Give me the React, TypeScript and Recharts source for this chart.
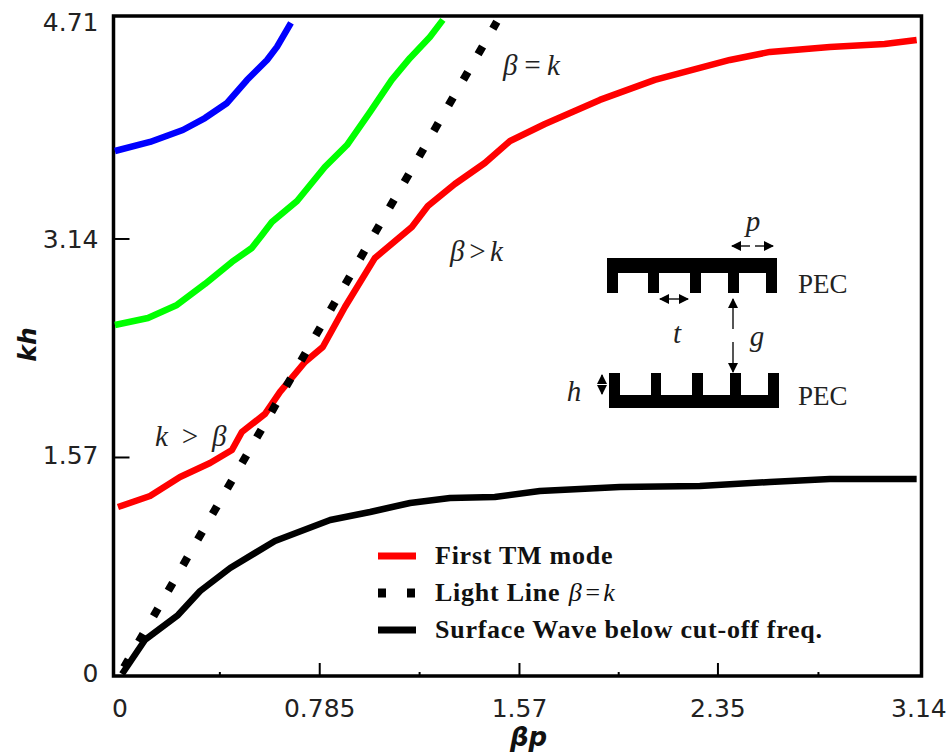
import React from "react";
import { LineChart, Line, XAxis, YAxis, Legend, ReferenceArea } from "recharts";

// values (beta*p, k*h)
const redX = [-0.008, 0.118, 0.236, 0.354, 0.44, 0.479, 0.57, 0.629, 0.727, 0.797, 0.884, 1.002, 1.147, 1.21, 1.316, 1.434, 1.533, 1.67, 1.886, 2.102, 2.397, 2.554, 2.79, 3.005, 3.131];
const redY = [1.214, 1.293, 1.43, 1.53, 1.624, 1.753, 1.883, 2.041, 2.256, 2.364, 2.651, 3.004, 3.226, 3.377, 3.535, 3.686, 3.844, 3.966, 4.139, 4.283, 4.426, 4.484, 4.52, 4.541, 4.57];
const greenX = [-0.02, 0.11, 0.224, 0.334, 0.44, 0.518, 0.558, 0.597, 0.696, 0.805, 0.892, 0.983, 1.068, 1.14, 1.218, 1.269];
const greenY = [2.522, 2.572, 2.666, 2.817, 2.975, 3.075, 3.169, 3.262, 3.413, 3.657, 3.815, 4.053, 4.283, 4.441, 4.591, 4.714];
const blueX = [-0.02, 0.118, 0.247, 0.334, 0.421, 0.499, 0.578, 0.617, 0.672];
const blueY = [3.772, 3.837, 3.923, 4.009, 4.117, 4.282, 4.426, 4.52, 4.692];
const blackX = [0.008, 0.098, 0.228, 0.315, 0.433, 0.609, 0.826, 0.983, 1.14, 1.297, 1.473, 1.65, 1.965, 2.279, 2.554, 2.79, 3.131];
const blackY = [0.014, 0.259, 0.438, 0.611, 0.776, 0.97, 1.121, 1.178, 1.243, 1.279, 1.286, 1.329, 1.358, 1.365, 1.394, 1.416, 1.416];
const lightX = [-0.004, 1.481];
const lightY = [0, 4.7];

const xMajor = [0, 0.785, 1.57, 2.35, 3.14];
const xMinor = [0.3925, 1.1775, 1.96, 2.745];
const yMajor = [0, 1.57, 3.14, 4.71];
const yLabelNudge: Record<number, number> = { 0: -3, 1.57: -2, 3.14: 0, 4.71: 2 };

const toPoints = (xs: number[], ys: number[]) => xs.map((x, i) => ({ x, y: ys[i] }));

const sans = "'DejaVu Sans', sans-serif";
const serif = "'Liberation Serif', serif";

const XTick = ({ x, y, payload }: any) => {
  const major = xMajor.includes(payload.value);
  const edge = payload.value === 0 || payload.value === 3.14;
  return (
    <g>
      {!edge && <line x1={x} x2={x} y1={y} y2={y - (major ? 13 : 4)} stroke="#000" strokeWidth={2} />}
      {major && (
        <text x={x} y={y + 41} textAnchor="middle" fontFamily={sans} fontSize={25} fill="#222">
          {payload.value}
        </text>
      )}
    </g>
  );
};

const YTick = ({ x, y, payload }: any) => {
  const edge = payload.value === 0 || payload.value === 4.71;
  return (
    <g>
      {!edge && <line x1={x} x2={x + 16} y1={y} y2={y} stroke="#000" strokeWidth={2} />}
      <text x={x - 15} y={y + 9 + yLabelNudge[payload.value]} textAnchor="end" fontFamily={sans} fontSize={25} fill="#222">
        {payload.value}
      </text>
    </g>
  );
};

const legendRows: any[] = [
  { name: "First TM mode", stroke: "#ff0000" },
  { name: "Light Line", stroke: "#000", dash: "8 21", extra: <i style={{ fontWeight: 400, letterSpacing: 2 }}> β=k</i> },
  { name: "Surface Wave below cut-off freq.", stroke: "#000" },
];

const LegendBox = () => (
  <div>
    {legendRows.map((row) => (
      <div key={row.name} style={{ display: "flex", alignItems: "center", height: 37, fontFamily: serif, fontWeight: 700, fontSize: 26, letterSpacing: 0.75, color: "#111", whiteSpace: "nowrap" }}>
        <svg width={57} height={10} style={{ flex: "none" }}>
          <line x1={0} x2={38} y1={5} y2={5} stroke={row.stroke} strokeWidth={row.dash ? 9 : 7} strokeDasharray={row.dash} />
        </svg>
        <span>{row.name}{row.extra}</span>
      </div>
    ))}
  </div>
);

const Arrow = ({ x1, y1, x2, y2 }: any) => (
  <line x1={x1} y1={y1} x2={x2} y2={y2} stroke="#555" strokeWidth={2} markerEnd="url(#tip)" />
);

const Comb = ({ d }: { d: string }) => <path d={d} fill="#000" />;

const Overlay = () => (
  <svg width={947} height={752} style={{ position: "absolute", left: 0, top: 0, pointerEvents: "none" }}>
    <defs>
      <marker id="tip" viewBox="0 0 10 10" refX={9} refY={5} markerWidth={5} markerHeight={6} orient="auto">
        <path d="M0 0 L10 5 L0 10 Z" fill="#000" />
      </marker>
    </defs>
    <Comb d="M607 258H777V293H766V273H739V293H728V273H701V293H690V273H659V293H648V273H618V293H607Z" />
    <Comb d="M609 408H779V373H768V395H741V373H730V395H703V373H692V395H661V373H651V395H620V373H609Z" />
    <Arrow x1={750} y1={246} x2={732} y2={246} />
    <Arrow x1={755} y1={246} x2={773} y2={246} />
    <Arrow x1={674} y1={299} x2={660} y2={299} />
    <Arrow x1={674} y1={299} x2={688} y2={299} />
    <Arrow x1={733} y1={329} x2={733} y2={299} />
    <Arrow x1={733} y1={342} x2={733} y2={372} />
    <Arrow x1={602} y1={384} x2={602} y2={375} />
    <Arrow x1={602} y1={385} x2={602} y2={394} />
    <g fontFamily={serif} fontSize={29} fill="#222" fontStyle="italic">
      <text x={753} y={231} textAnchor="middle">p</text>
      <text x={677} y={343} textAnchor="middle">t</text>
      <text x={757} y={346} textAnchor="middle">g</text>
      <text x={574} y={401} textAnchor="middle">h</text>
      <text x={503} y={75} letterSpacing={5}>β=k</text>
      <text x={450} y={261} letterSpacing={3}>β&gt;k</text>
      <text x={155} y={446} letterSpacing={2.5}>k &gt; β</text>
    </g>
    <g fontFamily={serif} fontSize={27} fill="#222">
      <text x={798} y={293}>PEC</text>
      <text x={798} y={405}>PEC</text>
    </g>
  </svg>
);

export default function App() {
  return (
    <div style={{ position: "absolute", left: 0, top: 0, width: 947, height: 752 }}>
      <LineChart width={947} height={752} margin={{ top: 16, right: 25.5, bottom: 46, left: 53.5 }}>
        <XAxis
          type="number"
          dataKey="x"
          domain={[-0.0255, 3.15]}
          ticks={[...xMajor, ...xMinor].sort((a, b) => a - b)}
          interval={0}
          height={30}
          tickSize={0}
          tickMargin={0}
          tickLine={false}
          axisLine={false}
          tick={<XTick />}
          allowDataOverflow
        />
        <YAxis
          type="number"
          dataKey="y"
          domain={[0, 4.742]}
          ticks={yMajor}
          interval={0}
          width={60}
          tickSize={0}
          tickMargin={0}
          tickLine={false}
          axisLine={false}
          tick={<YTick />}
          allowDataOverflow
        />
        <Legend
          layout="horizontal"
          align="center"
          verticalAlign="middle"
          content={<LegendBox />}
          wrapperStyle={{ position: "absolute", left: 378, top: 537, width: 500 }}
        />
        <Line data={toPoints(blueX, blueY)} dataKey="y" stroke="#0000ff" strokeWidth={6.5} strokeLinejoin="round" dot={false} legendType="none" isAnimationActive={false} />
        <Line data={toPoints(greenX, greenY)} dataKey="y" stroke="#00ff00" strokeWidth={6.5} strokeLinejoin="round" dot={false} legendType="none" isAnimationActive={false} />
        <Line data={toPoints(redX, redY)} dataKey="y" name="First TM mode" stroke="#ff0000" strokeWidth={6.5} strokeLinejoin="round" dot={false} isAnimationActive={false} />
        <Line data={toPoints(blackX, blackY)} dataKey="y" name="Surface Wave below cut-off freq." stroke="#000" strokeWidth={6.5} strokeLinejoin="round" dot={false} isAnimationActive={false} />
        <Line data={toPoints(lightX, lightY)} dataKey="y" name="Light Line" stroke="#000" strokeWidth={8} strokeDasharray="9 20.5" strokeDashoffset={19.5} dot={false} isAnimationActive={false} />
        <ReferenceArea x1={-0.0255} x2={3.15} y1={0} y2={4.742} fill="none" stroke="#000" strokeWidth={3.5} ifOverflow="visible" />
      </LineChart>
      <Overlay />
      <div style={{ position: "absolute", left: 510, top: 722, fontFamily: sans, fontWeight: 700, fontStyle: "italic", fontSize: 26, color: "#111" }}>βp</div>
      <div style={{ position: "absolute", left: 10, top: 330, transform: "rotate(-90deg)", fontFamily: sans, fontWeight: 700, fontStyle: "italic", fontSize: 25, color: "#111" }}>kh</div>
    </div>
  );
}
